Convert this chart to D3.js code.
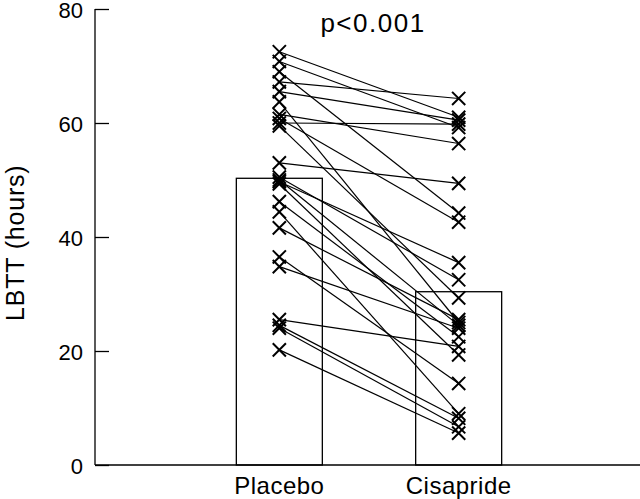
<!DOCTYPE html>
<html>
<head>
<meta charset="utf-8">
<script src="https://cdn.jsdelivr.net/npm/d3@7"></script>
<style>
  body { margin: 0; background: #fff; }
  text { font-family: "Liberation Sans", Arial, sans-serif; fill: #000; }
</style>
</head>
<body>
<svg id="chart" width="640" height="499"></svg>
<script>
// groups and bar heights (means)
var groups = ["Placebo", "Cisapride"];
var means = [50.3, 30.4];

// paired values per subject
var placebo   = [72.5, 70.8, 69.0, 67.2, 65.5, 63.7, 61.5, 60.8, 60.0, 59.5, 53.0, 50.5,
                 50.0, 49.7, 49.3, 46.2, 44.4, 41.6, 36.5, 34.8, 25.5, 24.5, 24.0, 20.2];
var cisapride = [61.0, 59.2, 44.2, 64.3, 60.5, 25.0, 56.4, 42.6, 59.8, 29.3, 49.4, 32.5,
                 24.5, 35.5, 19.3, 22.5, 9.0, 25.5, 14.3, 24.0, 20.8, 8.2, 6.7, 5.6];

var yTicks = [0, 20, 40, 60, 80];
var title = "p<0.001";
var yLabel = "LBTT (hours)";

var svg = d3.select("#chart"),
    margin = {top: 9, right: 0, bottom: 34, left: 95},
    width = +svg.attr("width"),
    height = +svg.attr("height");

var y = d3.scaleLinear()
    .domain([0, 80])
    .range([height - margin.bottom, margin.top]);

var x = d3.scalePoint()
    .domain(groups)
    .range([100, 638])
    .padding(1);

var barW = 86;

// bars
svg.append("g").selectAll("rect")
    .data(groups)
    .join("rect")
    .attr("x", d => x(d) - barW / 2)
    .attr("y", (d, i) => y(means[i]))
    .attr("width", barW)
    .attr("height", (d, i) => y(0) - y(means[i]))
    .attr("fill", "#fff")
    .attr("stroke", "#000")
    .attr("stroke-width", 1.3);

// paired lines
var pairs = placebo.map((p, i) => [p, cisapride[i]]);
svg.append("g").selectAll("line")
    .data(pairs)
    .join("line")
    .attr("x1", x("Placebo"))
    .attr("x2", x("Cisapride"))
    .attr("y1", d => y(d[0]))
    .attr("y2", d => y(d[1]))
    .attr("stroke", "#000")
    .attr("stroke-width", 1.2);

// X markers
var cross = d3.symbol(d3.symbolX, 115);
var pts = placebo.map(v => ({g: "Placebo", v: v}))
    .concat(cisapride.map(v => ({g: "Cisapride", v: v})));
svg.append("g").selectAll("path")
    .data(pts)
    .join("path")
    .attr("d", cross)
    .attr("transform", d => "translate(" + x(d.g) + "," + y(d.v) + ")")
    .attr("fill", "none")
    .attr("stroke", "#000")
    .attr("stroke-width", 2);

// y axis (ticks point inward)
var yAxis = svg.append("g")
    .attr("transform", "translate(" + margin.left + ",0)")
    .call(d3.axisRight(y).tickValues(yTicks).tickSize(14).tickFormat(d3.format("d")));
yAxis.select(".domain").attr("stroke", "#000").attr("stroke-width", 1.3)
    .attr("d", "M0," + y(80) + "V" + y(0));
yAxis.selectAll(".tick line").attr("stroke", "#000").attr("stroke-width", 1.3);
yAxis.selectAll(".tick text")
    .attr("x", -12)
    .attr("text-anchor", "end")
    .attr("dy", "0.4em")
    .style("font-size", "22px")
    .style("font-family", "'Liberation Sans', Arial, sans-serif");

// x axis line
svg.append("line")
    .attr("x1", margin.left).attr("x2", width)
    .attr("y1", y(0)).attr("y2", y(0))
    .attr("stroke", "#000")
    .attr("stroke-width", 1.3);

// category labels
svg.append("g").selectAll("text")
    .data(groups)
    .join("text")
    .attr("x", d => x(d))
    .attr("y", 494)
    .attr("text-anchor", "middle")
    .style("font-size", "24px")
    .style("letter-spacing", "0.5px")
    .text(d => d);

// y label
svg.append("text")
    .attr("transform", "translate(24," + y(39) + ") rotate(-90)")
    .attr("text-anchor", "middle")
    .style("font-size", "25px")
    .style("letter-spacing", "0.8px")
    .text(yLabel);

// p-value
svg.append("text")
    .attr("x", 373)
    .attr("y", 32)
    .attr("text-anchor", "middle")
    .style("font-size", "26px")
    .style("letter-spacing", "1.5px")
    .text(title);
</script>
</body>
</html>
